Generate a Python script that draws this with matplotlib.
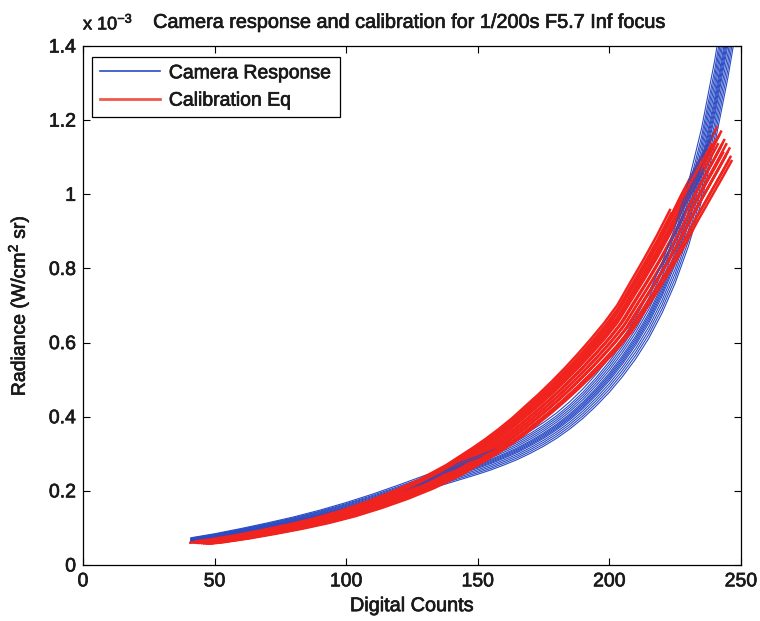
import numpy as np
import matplotlib
matplotlib.use("Agg")
import matplotlib.pyplot as plt
from matplotlib.lines import Line2D
import matplotlib.patheffects as pe

plt.rcParams['font.family'] = ['Liberation Sans', 'DejaVu Sans']
plt.rcParams['mathtext.fontset'] = 'custom'
plt.rcParams['mathtext.rm'] = 'Liberation Sans'
plt.rcParams['mathtext.default'] = 'regular'

# ---- data (radiance in units of 1e-3 W/cm^2 sr) ----
blue_counts = [41, 50, 60, 70, 80, 90, 100, 110, 120, 130, 140, 150, 155, 160,
               165, 170, 175, 180, 185, 190, 195, 200, 205, 210, 215, 220, 225,
               230, 235, 240, 245, 250]
blue_radiance = [0.068, 0.078, 0.091, 0.105, 0.120, 0.137, 0.156, 0.177, 0.200,
                 0.224, 0.248, 0.272, 0.285, 0.300, 0.316, 0.335, 0.356, 0.380,
                 0.408, 0.440, 0.477, 0.518, 0.565, 0.618, 0.680, 0.755, 0.845,
                 0.955, 1.090, 1.260, 1.460, 1.690]
blue_gains = [0.90, 0.915, 0.93, 0.945, 0.96, 0.97, 0.98, 0.99, 1.0, 1.015,
              1.03, 1.045, 1.06, 1.08]

red_counts = [45, 50, 60, 70, 80, 90, 100, 110, 120, 130, 140, 150, 155, 160,
              165, 170, 175, 180, 185, 190, 195, 200, 205, 210, 215, 220, 225,
              230, 235, 240, 243]
red_radiance = [0.060, 0.064, 0.075, 0.088, 0.102, 0.118, 0.137, 0.160, 0.186,
                0.216, 0.252, 0.295, 0.318, 0.343, 0.370, 0.400, 0.430, 0.462,
                0.496, 0.532, 0.570, 0.610, 0.655, 0.713, 0.770, 0.830, 0.895,
                0.965, 1.030, 1.095, 1.135]
red_shifts = [-3.0, -2.6, -2.2, -1.8, -1.4, -1.0, -0.6, -0.2, 0.2, 0.6, 1.0,
              1.4, 1.8, 2.2, 2.6, 3.0, 3.4, -4.2, -2.0, -1.5]
red_gains = [1.03, 1.01, 1.04, 1.00, 1.02, 0.99, 1.03, 1.00, 0.98, 1.01, 0.97,
             1.00, 0.98, 0.96, 0.99, 0.97, 0.96, 1.00, 1.07, 1.06]
red_ends = [243, 243, 243, 243, 243, 243, 243, 243, 243, 243, 243,
            243, 243, 243, 243, 243, 243, 243, 225, 225]

x_ticks = [0, 50, 100, 150, 200, 250]
y_ticks = [0, 0.2, 0.4, 0.6, 0.8, 1.0, 1.2, 1.4]
y_ticklabels = ['0', '0.2', '0.4', '0.6', '0.8', '1', '1.2', '1.4']

title = 'Camera response and calibration for 1/200s F5.7 Inf focus'
legend_labels = ['Camera Response', 'Calibration Eq']

BLUE = '#2a4bc4'
RED = '#f0231e'
TXT = '#1a1a1a'
fx = [pe.withStroke(linewidth=0.5, foreground=TXT)]

fig = plt.figure(figsize=(7.6, 6.21), dpi=100)
ax = fig.add_axes([83/760, 56/621, 658/760, 519/621])

bx = np.array(blue_counts, dtype=float)
by = np.array(blue_radiance, dtype=float)
rx = np.array(red_counts, dtype=float)
ry = np.array(red_radiance, dtype=float)

n = max(len(blue_gains), len(red_shifts))
for i in range(n):
    if i < len(blue_gains):
        ax.plot(bx, by * blue_gains[i], color=BLUE, lw=0.8)
    if i < len(red_shifts):
        m = rx <= red_ends[i]
        ax.plot(rx[m] + red_shifts[i], ry[m] * red_gains[i], color=RED, lw=1.8)

ax.set_xlim(0, 250)
ax.set_ylim(0, 1.4)
ax.set_xticks(x_ticks)
ax.set_yticks(y_ticks)
ax.set_yticklabels(y_ticklabels)
ax.tick_params(direction='in', top=True, right=True, length=5, width=0.8,
               labelsize=14, labelcolor=TXT)
ax.tick_params(axis='x', pad=6)
ax.tick_params(axis='y', pad=5)
for lab in ax.get_xticklabels() + ax.get_yticklabels():
    lab.set_path_effects(fx)
for s in ax.spines.values():
    s.set_linewidth(0.9)

ax.set_xlabel('Digital Counts', fontsize=14.3, color=TXT, path_effects=fx)
ax.xaxis.set_label_coords(0.5, -0.060)
ax.xaxis.label.set_va('top')
ax.set_ylabel('Radiance (W/cm$^2$ sr)', fontsize=14, color=TXT, path_effects=fx)
ax.yaxis.set_label_coords(-0.078, 0.5)

ax.text(0.0, 1.032, r'x 10$^{-3}$', transform=ax.transAxes, ha='left',
        va='baseline', fontsize=13, color=TXT, path_effects=fx)
ax.text(0.497, 1.035, title, transform=ax.transAxes, ha='center',
        va='baseline', fontsize=14.3, color=TXT, path_effects=fx)

handles = [Line2D([], [], color=BLUE, lw=1.2), Line2D([], [], color='#f05a4a', lw=2.0)]
leg = ax.legend(handles, legend_labels, loc='upper left',
                bbox_to_anchor=(0.0137, 0.979), borderaxespad=0, fontsize=14,
                fancybox=False, shadow=False, framealpha=1, edgecolor='black',
                handlelength=3.1, handletextpad=0.45, borderpad=0.4,
                labelspacing=0.5)
leg.get_frame().set_linewidth(0.9)
for t in leg.get_texts():
    t.set_color(TXT)
    t.set_path_effects(fx)

fig.savefig('out.png', dpi=100)
